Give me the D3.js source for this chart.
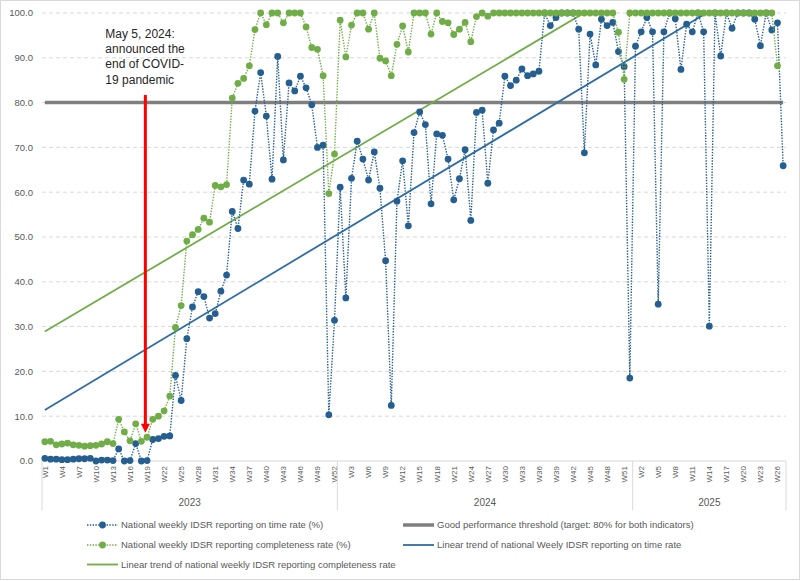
<!DOCTYPE html>
<html>
<head>
<meta charset="utf-8">
<script src="https://cdn.jsdelivr.net/npm/d3@7"></script>
<style>
body { margin:0; background:#fff; }
svg { display:block; font-family:"Liberation Sans", Arial, sans-serif; }
</style>
</head>
<body>
<div id="chart"></div>
<script>
/* Data */
var years = ["2023", "2024", "2025"];
var weeksPerYear = [52, 52, 27];

// National weekly IDSR reporting on time rate (%)
var onTime = [
    0.6,0.4,0.4,0.3,0.3,0.4,0.5,0.5,0.6,0.0,0.2,0.2,0.1,2.7,0.0,0.1,3.9,0.0,0.1,4.8,
    5.0,5.5,5.6,19.1,13.5,27.3,34.4,37.8,36.7,31.9,32.9,37.9,41.5,55.7,51.9,62.7,61.8,78.1,86.7,77.0,
    62.9,90.3,67.2,84.4,82.6,85.9,83.3,79.5,70.0,70.5,10.3,31.4,
    61.1,36.4,63.1,71.4,67.4,62.7,69.0,60.9,44.7,12.4,58.0,67.0,52.5,73.3,77.9,75.1,57.4,73.0,72.7,67.4,
    58.3,63.0,69.5,53.7,77.8,78.3,62.0,73.9,75.4,85.9,83.8,85.0,87.5,86.0,86.4,87.0,100,97.2,99.0,100,
    100,100,96.4,68.8,95.3,88.4,98.6,97.2,97.9,91.4,88.0,18.5,
    92.6,95.8,99.0,95.8,35.0,95.8,100,98.7,87.4,97.5,95.8,100,95.8,30.1,100,90.4,100,96.6,100,100,
    100,98.6,92.7,100,96.2,97.8,65.9
];

// National weekly IDSR reporting completeness rate (%)
var completeness = [
    4.3,4.4,3.6,3.8,4.0,3.6,3.5,3.3,3.4,3.5,3.8,4.3,3.9,9.3,6.5,4.5,8.3,4.4,5.3,9.3,
    10.0,11.2,14.5,29.8,34.7,49.1,50.5,51.7,54.2,53.3,61.5,61.2,61.7,81.0,84.3,85.4,88.2,96.3,100,97.4,
    100,100,97.8,100,100,100,96.9,92.3,91.9,86.0,59.7,68.5,
    98.4,90.2,97.3,100,100,96.4,100,89.9,89.3,86.0,93.0,97.1,91.3,100,100,100,95.3,100,98.1,97.8,
    95.2,96.4,97.9,93.6,99.2,100,99.3,100,100,100,100,100,100,100,100,100,100,100,100,100,
    100,100,100,100,100,100,100,100,100,95.7,85.2,
    100,100,100,100,100,100,100,100,100,100,100,100,100,100,100,100,100,100,100,100,
    100,100,100,100,100,100,88.2
];

var threshold = 80;
var yTicks = [0,10,20,30,40,50,60,70,80,90,100];
var tickEvery = 3;

// annotation: week index (between 2023 W18 and W19) and arrow values
var annotationWeek = 17.7;
var arrowTop = 81.7;
var arrowTip = 6.3;
var annotationLines = ["May 5, 2024:", "announced the", "end of COVID-", "19 pandemic"];

var legendItems = [
    {label:"National weekly IDSR reporting on time rate (%)", type:"dots", color:"#255e91", col:0, row:0},
    {label:"Good performance threshold (target: 80% for both indicators)", type:"thick", color:"#7f7f7f", col:1, row:0},
    {label:"National weekly IDSR reporting completeness rate (%)", type:"dots", color:"#70ad47", col:0, row:1},
    {label:"Linear trend of national Weely IDSR reporting on time rate", type:"line", color:"#2e6da4", col:1, row:1},
    {label:"Linear trend of national weekly IDSR reporting completeness rate", type:"line", color:"#70ad47", col:0, row:2}
];

/* Layout */
var chartW = 800, chartH = 581;
var plotLeft = 42, plotRight = 786, plotTop = 13, plotBottom = 461;
var blue = "#255e91", green = "#70ad47", trendBlue = "#2e6da4";
var axisText = "#595959", gridColor = "#d9d9d9";

// week labels built from the year lengths
var weekLabels = [];
var yearStart = [];
years.forEach(function(yr, k){
    yearStart.push(weekLabels.length);
    for (var w = 1; w <= weeksPerYear[k]; w++){
        weekLabels.push("W" + w);
    }
});
var n = weekLabels.length;

var x = d3.scaleLinear().domain([-0.5, n - 0.5]).range([plotLeft, plotRight]);
var y = d3.scaleLinear().domain([0, 100]).range([plotBottom, plotTop]);

var svg = d3.select('#chart').append('svg')
    .attr('width', chartW)
    .attr('height', chartH);

drawFrame(svg);
drawGrid(svg);
drawXAxis(svg);
drawSeries(svg);
drawAnnotation(svg);
drawLegend(svg);

/*
 * outer chart border
 */
function drawFrame(svg){
    svg.append('rect')
        .attr('x', 0.5).attr('y', 0.5)
        .attr('width', chartW - 1).attr('height', chartH - 2)
        .attr('fill', '#fff')
        .attr('stroke', gridColor);
}

/*
 * horizontal gridlines and y labels
 */
function drawGrid(svg){
    svg.selectAll('.grid')
        .data(yTicks.filter(function(d){ return d > 0; }))
        .enter()
        .append('line')
        .attr('x1', plotLeft).attr('x2', plotRight)
        .attr('y1', function(d){ return y(d); })
        .attr('y2', function(d){ return y(d); })
        .attr('stroke', gridColor)
        .attr('stroke-dasharray', '4,3');

    svg.selectAll('.ylab')
        .data(yTicks)
        .enter()
        .append('text')
        .attr('x', plotLeft - 9)
        .attr('y', function(d){ return y(d); })
        .attr('dy', '0.35em')
        .attr('text-anchor', 'end')
        .attr('font-size', '9.5px')
        .attr('fill', axisText)
        .text(function(d){ return d3.format('.1f')(d); });
}

/*
 * category axis with week labels and year groups
 */
function drawXAxis(svg){
    svg.append('line')
        .attr('x1', plotLeft).attr('x2', plotRight)
        .attr('y1', plotBottom).attr('y2', plotBottom)
        .attr('stroke', gridColor);

    var ticks = d3.range(0, n, tickEvery);
    svg.selectAll('.xlab')
        .data(ticks)
        .enter()
        .append('text')
        .attr('transform', function(i){ return 'translate(' + x(i) + ',' + (plotBottom + 5) + ') rotate(-90)'; })
        .attr('dy', '0.35em')
        .attr('text-anchor', 'end')
        .attr('font-size', '8px')
        .attr('fill', axisText)
        .text(function(i){ return weekLabels[i]; });

    // year separators
    var bounds = yearStart.concat([n]);
    svg.selectAll('.sep')
        .data(bounds)
        .enter()
        .append('line')
        .attr('x1', function(i){ return x(i - 0.5); })
        .attr('x2', function(i){ return x(i - 0.5); })
        .attr('y1', plotBottom).attr('y2', plotBottom + 49)
        .attr('stroke', gridColor);

    svg.selectAll('.year')
        .data(years)
        .enter()
        .append('text')
        .attr('x', function(d, k){ return (x(bounds[k] - 0.5) + x(bounds[k + 1] - 0.5)) / 2; })
        .attr('y', plotBottom + 45)
        .attr('text-anchor', 'middle')
        .attr('font-size', '10px')
        .attr('fill', axisText)
        .text(function(d){ return d; });
}

/*
 * least squares fit over the week index
 */
function linearFit(values){
    var mx = d3.mean(values, function(d, i){ return i; });
    var my = d3.mean(values);
    var sxy = 0, sxx = 0;
    values.forEach(function(v, i){
        sxy += (i - mx) * (v - my);
        sxx += (i - mx) * (i - mx);
    });
    var slope = sxy / sxx;
    return {slope: slope, intercept: my - slope * mx};
}

/*
 * threshold, trends, dotted series and markers
 */
function drawSeries(svg){
    svg.append('clipPath').attr('id', 'plotClip')
        .append('rect')
        .attr('x', plotLeft).attr('y', plotTop)
        .attr('width', plotRight - plotLeft).attr('height', plotBottom - plotTop);

    svg.append('line')
        .attr('x1', x(0)).attr('x2', x(n - 1))
        .attr('y1', y(threshold)).attr('y2', y(threshold))
        .attr('stroke', '#7f7f7f')
        .attr('stroke-width', 3.5);

    var line = d3.line()
        .x(function(d, i){ return x(i); })
        .y(function(d){ return y(d); });

    var series = [
        {values: onTime, color: blue, trend: trendBlue},
        {values: completeness, color: green, trend: green}
    ];

    series.forEach(function(s){
        var fit = linearFit(s.values);
        svg.append('line')
            .attr('clip-path', 'url(#plotClip)')
            .attr('x1', x(0)).attr('x2', x(n - 1))
            .attr('y1', y(fit.intercept))
            .attr('y2', y(fit.intercept + fit.slope * (n - 1)))
            .attr('stroke', s.trend)
            .attr('stroke-width', 1.8);
    });

    series.forEach(function(s){
        svg.append('path')
            .datum(s.values)
            .attr('d', line)
            .attr('fill', 'none')
            .attr('stroke', s.color)
            .attr('stroke-width', 1.4)
            .attr('stroke-dasharray', '1.4,1.4');
        svg.append('g').selectAll('circle')
            .data(s.values)
            .enter()
            .append('circle')
            .attr('cx', function(d, i){ return x(i); })
            .attr('cy', function(d){ return y(d); })
            .attr('r', 3.4)
            .attr('fill', s.color);
    });
}

/*
 * red arrow and text for the end of the pandemic
 */
function drawAnnotation(svg){
    var ax = x(annotationWeek);
    svg.append('line')
        .attr('x1', ax).attr('x2', ax)
        .attr('y1', y(arrowTop)).attr('y2', y(arrowTip) - 8)
        .attr('stroke', '#ff0000')
        .attr('stroke-width', 3);
    svg.append('path')
        .attr('d', 'M' + (ax - 4.5) + ',' + (y(arrowTip) - 9) +
              'L' + (ax + 4.5) + ',' + (y(arrowTip) - 9) +
              'L' + ax + ',' + y(arrowTip) + 'Z')
        .attr('fill', '#ff0000');

    svg.selectAll('.note')
        .data(annotationLines)
        .enter()
        .append('text')
        .attr('x', ax - 40)
        .attr('y', function(d, i){ return 37.5 + i * 15.4; })
        .attr('font-size', '12px')
        .attr('fill', '#262626')
        .text(function(d){ return d; });
}

/*
 * legend below the axis
 */
function drawLegend(svg){
    var colX = [87, 403];
    var rowY = [525, 545, 564.5];
    var g = svg.selectAll('.legend')
        .data(legendItems)
        .enter()
        .append('g')
        .attr('transform', function(d){ return 'translate(' + colX[d.col] + ',' + rowY[d.row] + ')'; });

    g.append('line')
        .attr('x1', 0).attr('x2', 31)
        .attr('y1', 0).attr('y2', 0)
        .attr('stroke', function(d){ return d.color; })
        .attr('stroke-width', function(d){ return d.type == 'thick' ? 3.5 : (d.type == 'line' ? 1.8 : 1.4); })
        .attr('stroke-dasharray', function(d){ return d.type == 'dots' ? '1.4,1.4' : null; });

    g.filter(function(d){ return d.type == 'dots'; })
        .append('circle')
        .attr('cx', 15.5).attr('cy', 0).attr('r', 3.4)
        .attr('fill', function(d){ return d.color; });

    g.append('text')
        .attr('x', 34)
        .attr('dy', '0.35em')
        .attr('font-size', '9.5px')
        .attr('fill', axisText)
        .text(function(d){ return d.label; });
}
</script>
</body>
</html>
